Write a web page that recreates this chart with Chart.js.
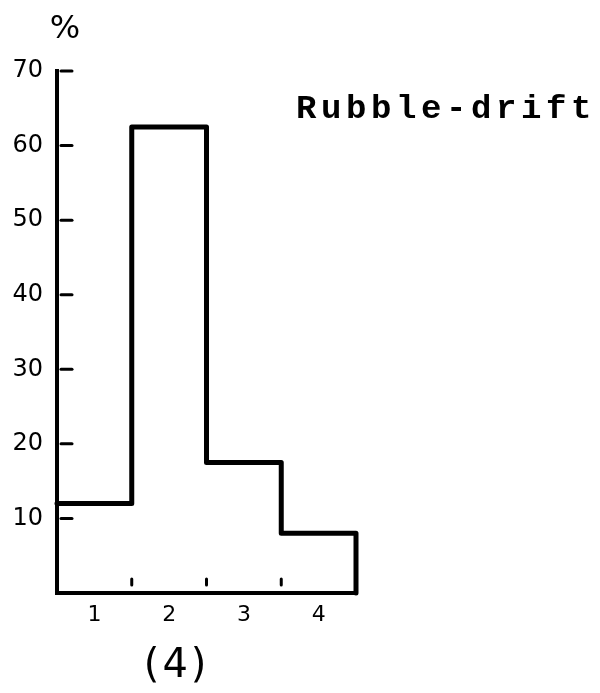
<!DOCTYPE html>
<html>
<head>
<meta charset="utf-8">
<script src="https://cdn.jsdelivr.net/npm/chart.js@4/dist/chart.umd.min.js"></script>
<style>
  html, body { margin: 0; padding: 0; background: #fff; }
  #wrap { width: 600px; height: 693px; }
</style>
</head>
<body>
<div id="wrap"><canvas id="chart" width="600" height="693"></canvas></div>
<script>
// Size classes and share of each class (%)
const categories = ['1', '2', '3', '4'];
const percentages = [12, 62.5, 17.5, 8];
const yTicks = [10, 20, 30, 40, 50, 60, 70];
const yMax = 70;
const chartTitle = 'Rubble-drift';
const panelLabel = '(4)';
const unitLabel = '%';

const INK = '#000';

// Step outline: one horizontal run per class, from bin edge to bin edge
const outline = [];
percentages.forEach((v, i) => outline.push({ x: i + 0.5, y: v }));
outline.push({ x: percentages.length + 0.5, y: percentages[percentages.length - 1] });
outline.push({ x: percentages.length + 0.5, y: 0 });

// Short tick marks drawn on the inside of both axes, plus the free text
const annotations = {
    id: 'annotations',
    afterDatasetsDraw(chart) {
        const { ctx, chartArea, scales: { x, y } } = chart;
        ctx.save();
        ctx.strokeStyle = INK;
        ctx.lineCap = 'round';
        ctx.lineWidth = 3;
        yTicks.forEach(t => {
            const py = y.getPixelForValue(t);
            ctx.beginPath();
            ctx.moveTo(chartArea.left + 4, py);
            ctx.lineTo(chartArea.left + 15, py);
            ctx.stroke();
        });
        for (let i = 1; i < categories.length; i++) {
            const px = x.getPixelForValue(i + 0.5);
            ctx.beginPath();
            ctx.moveTo(px, chartArea.bottom - 14);
            ctx.lineTo(px, chartArea.bottom - 8);
            ctx.stroke();
        }

        ctx.fillStyle = INK;
        ctx.textAlign = 'center';
        ctx.textBaseline = 'middle';
        ctx.font = '32px "DejaVu Sans"';
        ctx.fillText(unitLabel, chartArea.left + 8, 30);

        ctx.font = '40px "DejaVu Sans"';
        ctx.letterSpacing = '3px';
        ctx.fillText(panelLabel, x.getPixelForValue(2.1), 667);

        ctx.font = 'bold 34px "Liberation Mono"';
        ctx.letterSpacing = '4.6px';
        ctx.textAlign = 'left';
        ctx.fillText(chartTitle, 296, 109);
        ctx.restore();
    }
};

new Chart(document.getElementById('chart'), {
    type: 'line',
    data: {
        datasets: [{
            data: outline,
            stepped: 'before',
            borderColor: INK,
            borderWidth: 5,
            borderJoinStyle: 'round',
            borderCapStyle: 'round',
            pointRadius: 0,
            fill: false,
            clip: false
        }]
    },
    options: {
        responsive: false,
        animation: false,
        layout: { padding: { top: 71, right: 244, left: 0, bottom: 0 } },
        plugins: { legend: { display: false }, tooltip: { enabled: false } },
        scales: {
            x: {
                type: 'linear',
                min: 0.5,
                max: categories.length + 0.5,
                afterBuildTicks: s => { s.ticks = categories.map((c, i) => ({ value: i + 1 })); },
                afterFit: s => { s.height = 100; },
                grid: { display: false, drawTicks: false },
                border: { display: true, color: INK, width: 4 },
                ticks: {
                    padding: 9,
                    color: INK,
                    font: { family: 'DejaVu Sans', size: 22 },
                    callback: v => categories[v - 1]
                }
            },
            y: {
                min: 0,
                max: yMax,
                afterBuildTicks: s => { s.ticks = yTicks.map(v => ({ value: v })); },
                afterFit: s => { s.width = 57; },
                grid: { display: false, drawTicks: false },
                border: { display: true, color: INK, width: 4 },
                ticks: {
                    padding: 14,
                    color: INK,
                    font: { family: 'DejaVu Sans', size: 24 }
                }
            }
        }
    },
    plugins: [annotations]
});
</script>
</body>
</html>
